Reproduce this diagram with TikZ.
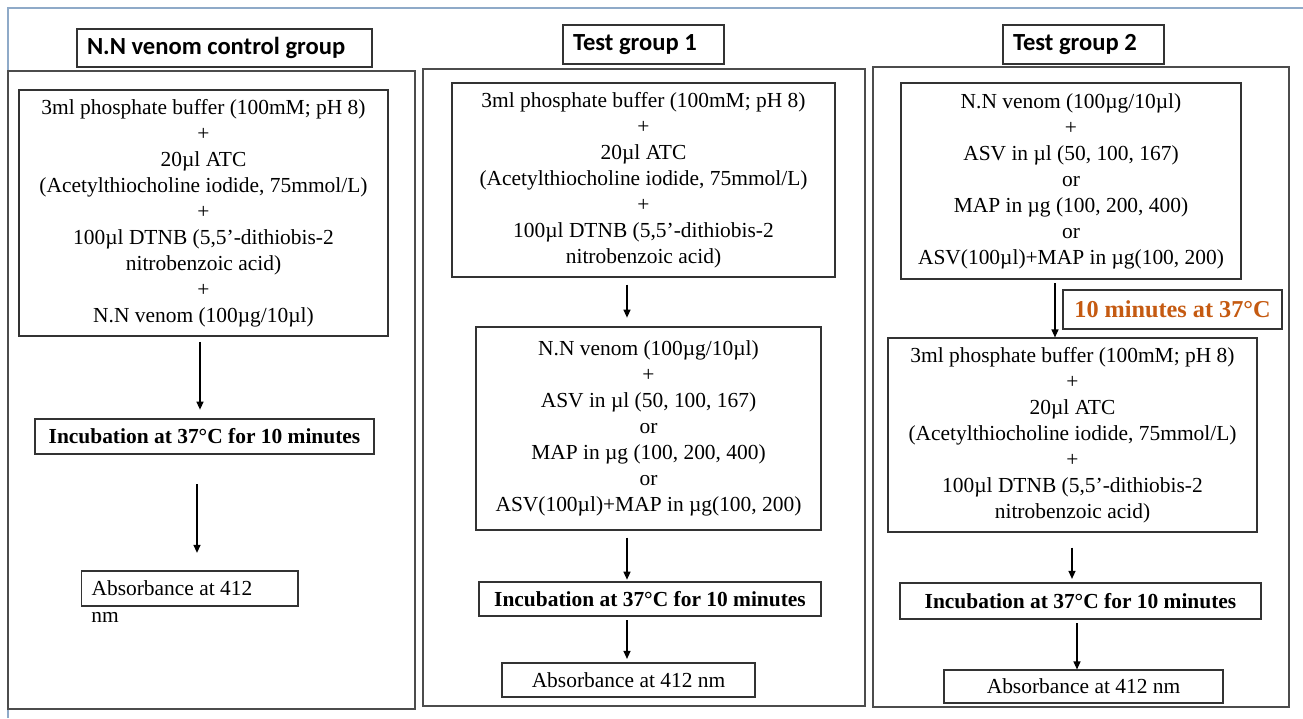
\documentclass[tikz,border=0pt]{standalone}
\usepackage{fontspec}
\setmainfont{Liberation Serif}
\newfontfamily\headfont{Carlito}
\usetikzlibrary{arrows,arrows.meta}
\definecolor{frameblue}{RGB}{143,170,200}
\definecolor{warmorange}{RGB}{197,90,17}

\tikzset{
  body/.style={font=\fontsize{12.2}{14.8}\selectfont, align=center},
  procbox/.style={body, draw=black!80, line width=0.7pt, inner sep=0pt},
  headbox/.style={draw=black!80, line width=0.7pt, inner ysep=0pt, inner xsep=0.2cm,
                  align=flush left, font=\headfont\bfseries\fontsize{14}{16}\selectfont},
  panel/.style={draw=black!70, line width=0.9pt},
  sz/.style 2 args={minimum width=#1*0.02cm, minimum height=#2*0.02cm},
  arr/.style={-{Triangle[length=4.5pt,width=4pt]}, black, line width=0.6pt}
}

\begin{document}
\begin{tikzpicture}[x=0.02cm, y=-0.02cm]
    \path[fill=white, use as bounding box] (0,0) rectangle (1303,718);
    \draw [frameblue, line width=0.6pt] (8,718) -- (8,8) -- (1303,8);

    % the three groups
    \draw [panel] (8,71)   rectangle (415,709)
                  (423,69) rectangle (865,706)
                  (873,67) rectangle (1289,707);

    \node [headbox, text width=5.5cm,  minimum height=0.76cm] (head1) at (224.5,48)   {N.N venom control group};
    \node [headbox, text width=2.82cm, minimum height=0.78cm] (head2) at (643.5,44.5)  {Test group 1};
    \node [headbox, text width=2.82cm, minimum height=0.78cm] (head3) at (1083.5,44.5) {Test group 2};

    % control group
    \node [procbox, sz={369}{246}] (mix1) at (203.5,213)
          {3ml phosphate buffer (100mM; pH 8)\\+\\20µl ATC\\(Acetylthiocholine iodide, 75mmol/L)\\+\\100µl DTNB (5,5’-dithiobis-2\\nitrobenzoic acid)\\+\\N.N venom (100µg/10µl)};
    \node [procbox, sz={339}{35}] (inc1) at (204.5,436.5)
          {\textbf{Incubation at 37°C for 10 minutes}};
    \node [procbox, anchor=west, align=flush left, text width=3.93cm, inner xsep=0.2cm,
           minimum height=0.7cm] (abs1) at (81,588.5) {Absorbance at 412};
    \node [body, anchor=west, inner sep=0pt] (nm1) at (91,617) {nm};

    \draw [arr, shorten <=3pt, shorten >=5pt]   (200,0 |- mix1.south) -- (200,0 |- inc1.north);
    \draw [arr, shorten <=17pt, shorten >=10pt] (197,0 |- inc1.south) -- (197,0 |- abs1.north);

    % test group 1
    \node [procbox, sz={383}{194}] (mix2) at (643.5,180)
          {3ml phosphate buffer (100mM; pH 8)\\+\\20µl ATC\\(Acetylthiocholine iodide, 75mmol/L)\\+\\100µl DTNB (5,5’-dithiobis-2\\nitrobenzoic acid)};
    \node [procbox, sz={345}{203}] (vm2) at (648.5,428.5)
          {N.N venom (100µg/10µl)\\+\\ASV in µl (50, 100, 167)\\or\\MAP in µg (100, 200, 400)\\or\\ASV(100µl)+MAP in µg(100, 200)};
    \node [procbox, sz={342}{34}] (inc2) at (650,599)
          {\textbf{Incubation at 37°C for 10 minutes}};
    \node [procbox, sz={253}{34}] (abs2) at (628.5,680) {Absorbance at 412 nm};

    \draw [arr, shorten <=4pt, shorten >=5pt] (627,0 |- mix2.south) -- (627,0 |- vm2.north);
    \draw [arr, shorten <=4pt, shorten >=1pt] (627,0 |- vm2.south)  -- (627,0 |- inc2.north);
    \draw [arr, shorten <=2pt, shorten >=2pt] (627,0 |- inc2.south) -- (627,0 |- abs2.north);

    % test group 2
    \node [procbox, sz={340}{196}] (vm3) at (1071,181)
          {N.N venom (100µg/10µl)\\+\\ASV in µl (50, 100, 167)\\or\\MAP in µg (100, 200, 400)\\or\\ASV(100µl)+MAP in µg(100, 200)};
    \node [procbox, sz={219}{39}, text=warmorange,
           font=\bfseries\fontsize{13.8}{16}\selectfont] (temp3) at (1172.5,309.5)
          {10 minutes at 37°C};
    \node [procbox, sz={369}{194}] (mix3) at (1072.5,435)
          {3ml phosphate buffer (100mM; pH 8)\\+\\20µl ATC\\(Acetylthiocholine iodide, 75mmol/L)\\+\\100µl DTNB (5,5’-dithiobis-2\\nitrobenzoic acid)};
    \node [procbox, sz={361}{36}] (inc3) at (1080.5,601)
          {\textbf{Incubation at 37°C for 10 minutes}};
    \node [procbox, sz={279}{33}] (abs3) at (1083.5,686.5) {Absorbance at 412 nm};

    \draw [arr, shorten <=2pt]                   (1055,0 |- vm3.south)  -- (1055,0 |- mix3.north);
    \draw [arr, shorten <=8.5pt, shorten >=2pt]  (1072,0 |- mix3.south) -- (1072,0 |- inc3.north);
    \draw [arr, shorten <=2pt]                   (1077,0 |- inc3.south) -- (1077,0 |- abs3.north);
\end{tikzpicture}
\end{document}
